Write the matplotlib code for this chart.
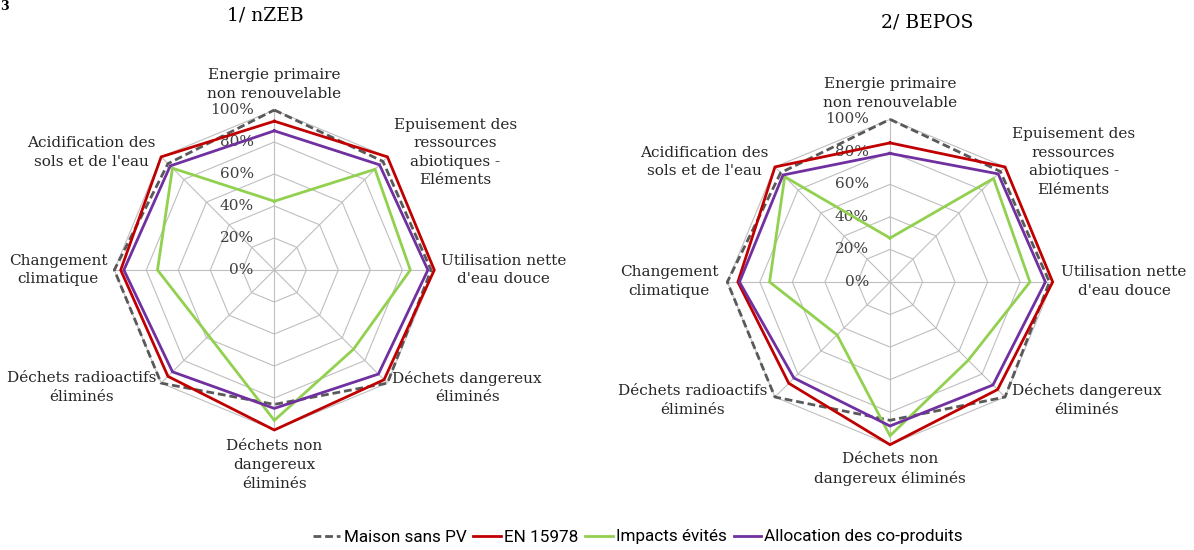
import numpy as np
import matplotlib
matplotlib.use("Agg")
import matplotlib.pyplot as plt
from matplotlib.lines import Line2D

# Impact categories (clockwise from the top)
categories_nzeb = [
    "Energie primaire\nnon renouvelable",
    "Epuisement des\nressources\nabiotiques -\nEléments",
    "Utilisation nette\nd'eau douce",
    "Déchets dangereux\néliminés",
    "Déchets non\ndangereux\néliminés",
    "Déchets radioactifs\néliminés",
    "Changement\nclimatique",
    "Acidification des\nsols et de l'eau",
]
categories_bepos = list(categories_nzeb)
categories_bepos[4] = "Déchets non\ndangereux éliminés"

series_names = ["Maison sans PV", "EN 15978", "Impacts évités", "Allocation des co-produits"]

# 1/ nZEB (share of the maximum per indicator)
nzeb_maison = [1.00, 0.96, 0.98, 1.00, 0.84, 1.00, 1.00, 0.94]
nzeb_en15978 = [0.93, 1.00, 1.00, 0.97, 1.00, 0.94, 0.96, 1.00]
nzeb_impacts = [0.43, 0.89, 0.85, 0.70, 0.94, 0.58, 0.73, 0.90]
nzeb_alloc = [0.87, 0.93, 0.96, 0.92, 0.865, 0.90, 0.94, 0.92]

# 2/ BEPOS
bepos_maison = [1.00, 0.96, 0.98, 1.00, 0.85, 1.00, 1.00, 0.95]
bepos_en15978 = [0.855, 1.00, 1.00, 0.935, 1.00, 0.88, 0.935, 1.00]
bepos_impacts = [0.27, 0.90, 0.86, 0.68, 0.945, 0.46, 0.74, 0.915]
bepos_alloc = [0.79, 0.94, 0.955, 0.895, 0.885, 0.835, 0.925, 0.93]

ring_levels = [0.0, 0.2, 0.4, 0.6, 0.8, 1.0]
ring_labels = ["0%", "20%", "40%", "60%", "80%", "100%"]

styles = [
    dict(color="#595959", lw=2.0, ls=(0, (2.8, 1.4))),
    dict(color="#c00000", lw=2.0, ls="-"),
    dict(color="#92d050", lw=2.0, ls="-"),
    dict(color="#7030a0", lw=2.0, ls="-"),
]

SERIF = "DejaVu Serif"
W, H = 1194, 550
fig = plt.figure(figsize=(W / 100, H / 100), dpi=100)


def radar(rect, title, title_xy, cats, data, label_offsets, ring_dx):
    ax = fig.add_axes(rect, projection="polar")
    ax.set_theta_offset(np.pi / 2)
    ax.set_theta_direction(-1)
    ax.set_ylim(0, 1)
    ax.grid(False)
    ax.spines["polar"].set_visible(False)
    ax.set_xticks([])
    ax.set_yticks([])
    ax.patch.set_alpha(0)

    n = len(cats)
    theta = np.linspace(0, 2 * np.pi, n, endpoint=False)
    closed = np.append(theta, theta[0])

    for lvl in ring_levels[1:]:
        ax.plot(closed, [lvl] * (n + 1), color="#bfbfbf", lw=0.8, zorder=1)
    for t in theta:
        ax.plot([t, t], [0, 1], color="#bfbfbf", lw=0.8, zorder=1)

    for vals, st in zip(data, styles):
        v = np.append(vals, vals[0])
        ax.plot(closed, v, color=st["color"], lw=st["lw"], ls=st["ls"],
                zorder=3, clip_on=False, solid_joinstyle="miter")

    for lvl, lab in zip(ring_levels, ring_labels):
        ax.annotate(lab, xy=(0, lvl), xycoords="data",
                    xytext=(ring_dx * 0.72, 0), textcoords="offset points",
                    ha="right", va="center", fontsize=11, family=SERIF,
                    color="#404040", zorder=2)

    for lab, (dx, dy) in zip(cats, label_offsets):
        ax.annotate(lab, xy=(0, 0), xycoords="data",
                    xytext=(dx * 0.72, -dy * 0.72), textcoords="offset points",
                    ha="center", va="center", fontsize=11, family=SERIF,
                    color="#262626", linespacing=1.42, annotation_clip=False)

    fig.text(title_xy[0] / W, 1 - title_xy[1] / H, title, ha="center",
             va="center", fontsize=13.5, family=SERIF, color="#000000")
    return ax


offsets_nzeb = [(0, -185.5), (181, -117.5), (229.5, 0), (193, 117.5),
                (0, 195), (-193, 117.5), (-216, 0), (-182.7, -117.5)]
offsets_bepos = [(0, -188.7), (183.6, -120), (234, -0.8), (196.6, 118.3),
                 (0, 186.8), (-197.3, 118.3), (-221, -0.8), (-186, -120)]

radar([114.3 / W, 120 / H, 320 / W, 320 / H], "1/ nZEB", (265.6, 16),
      categories_nzeb,
      [nzeb_maison, nzeb_en15978, nzeb_impacts, nzeb_alloc],
      offsets_nzeb, -20.5)

radar([727.3 / W, 105.3 / H, 325.4 / W, 325.4 / H], "2/ BEPOS", (927.3, 22.7),
      categories_bepos,
      [bepos_maison, bepos_en15978, bepos_impacts, bepos_alloc],
      offsets_bepos, -21)

# Figure number fragment at the top-left edge
fig.text(0.0, 1 - 6 / H, "3", ha="left", va="center", fontsize=9,
         weight="bold", family=SERIF)

handles = [Line2D([0], [0], color=st["color"], lw=st["lw"], ls=st["ls"])
           for st in styles]
fig.legend(handles, series_names, loc="center", bbox_to_anchor=(638 / W, 1 - 537 / H),
           ncol=4, frameon=False, handlelength=1.6, handletextpad=0.2,
           columnspacing=0.4, prop={"family": "Roboto", "size": 12.3})

fig.savefig("out.png", dpi=100)
